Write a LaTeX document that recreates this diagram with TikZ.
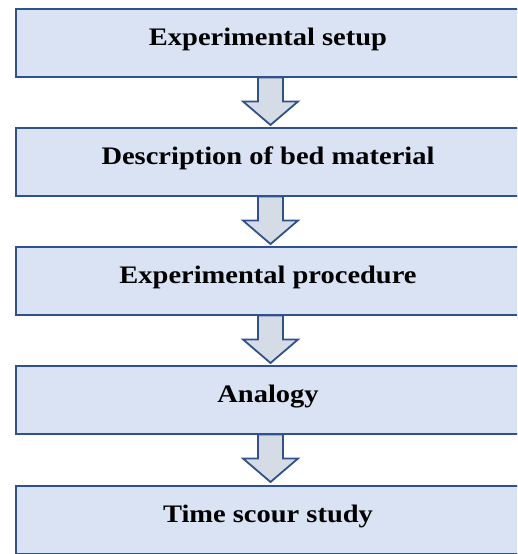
\documentclass[tikz,border=0pt]{standalone}
\usepackage{fontspec}
\setmainfont{Liberation Serif}[FakeStretch=1.13]
\usetikzlibrary{calc}
\definecolor{boxfill}{HTML}{DAE3F3}
\definecolor{boxline}{HTML}{2F528F}
\definecolor{arrfill}{HTML}{D6DCE5}
\tikzset{
  stepbox/.style={draw=boxline, line width=2pt, fill=boxfill, rectangle,
    minimum width=505pt, minimum height=68pt, inner sep=0pt,
    font=\fontsize{25.2}{30}\selectfont\bfseries, text height=12pt, text depth=7pt},
  blockarrow/.style={draw=boxline, line width=1.8pt, fill=arrfill, line join=miter}
}
\newcommand{\blockarr}[2]{%
  \draw[blockarrow] ($(#1.south)+(15,1)$) -- ($(#1.south)+(15,-23)$) -- ($(#1.south)+(30,-23)$)
    -- ($(#1.south)+(2.5,-46.5)$) -- ($(#1.south)+(-25,-23)$) -- ($(#1.south)+(-10,-23)$)
    -- ($(#1.south)+(-10,1)$) -- cycle;}
\begin{document}
\begin{tikzpicture}[x=1pt,y=1pt]
\useasboundingbox (0,0) rectangle (517,554);
\clip (0,0) rectangle (517,554);
\node[stepbox] (b1) at (268,510.5) {Experimental setup};
\node[stepbox] (b2) at (268,391.5) {Description of bed material};
\node[stepbox] (b3) at (268,272.5) {Experimental procedure};
\node[stepbox] (b4) at (268,153.5) {Analogy};
\node[stepbox] (b5) at (268,33.5) {Time scour study};
\blockarr{b1}{b2}
\blockarr{b2}{b3}
\blockarr{b3}{b4}
\blockarr{b4}{b5}
\end{tikzpicture}
\end{document}
